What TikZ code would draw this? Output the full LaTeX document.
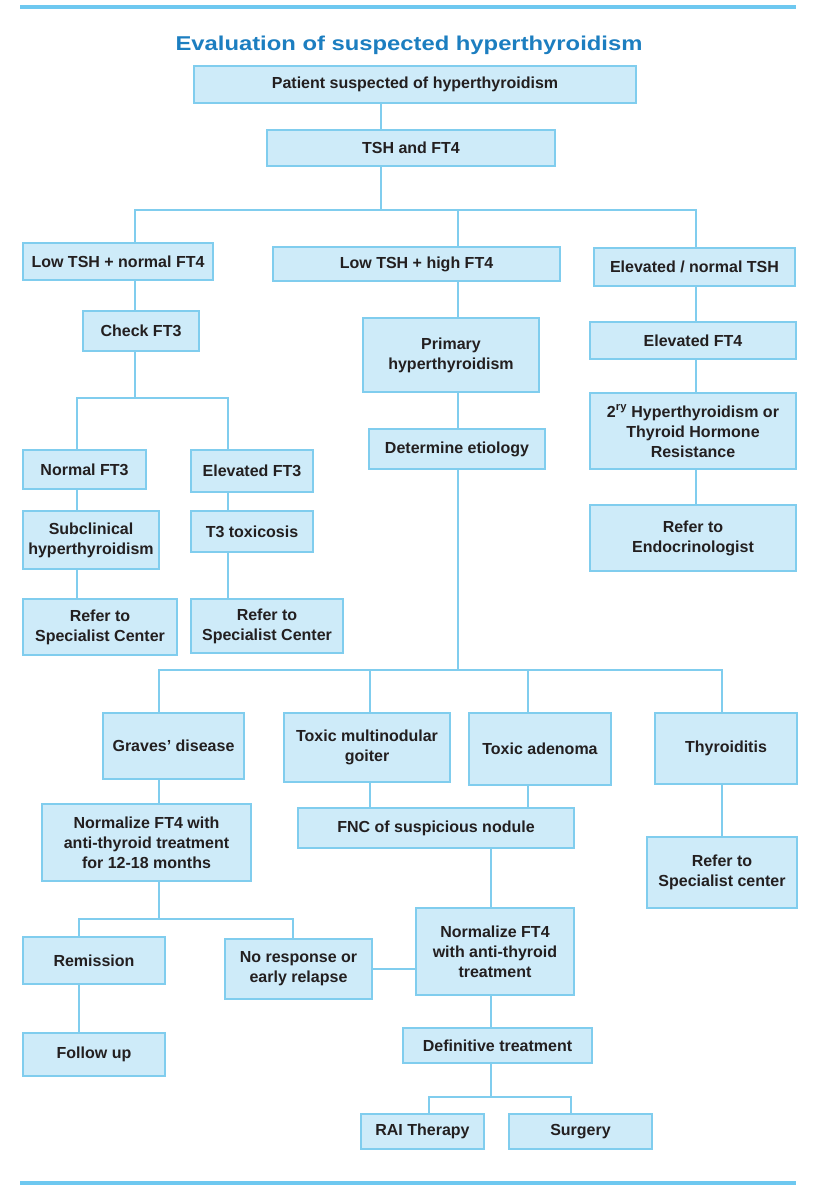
\documentclass[tikz,border=0pt]{standalone}
\usepackage{fontspec}
\setmainfont{Liberation Sans}
\usepackage{tikz}

\definecolor{boxfill}{RGB}{206,235,249}
\definecolor{boxline}{RGB}{128,205,238}
\definecolor{rulecol}{RGB}{110,200,240}
\definecolor{titleblue}{RGB}{28,126,192}
\definecolor{txt}{RGB}{35,31,32}

\tikzset{
  box/.style={draw=boxline, fill=boxfill, line width=1.8pt, inner sep=0pt,
    align=center, text=txt, font=\fontsize{16}{20}\selectfont\bfseries},
  link/.style={draw=boxline, line width=1.8pt},
  rule/.style={draw=rulecol, line width=4pt}
}

% name, left, top, right, bottom, text
\newcommand{\flowbox}[6]{
  \node[box, minimum width={#4-#2}, minimum height={#5-#3}]
    (#1) at ({(#2+#4)/2},{(#3+#5)/2}) {#6};
}

\begin{document}
\begin{tikzpicture}[x=1pt,y=-1pt]
\useasboundingbox (0,0) rectangle (824,1200);

% rules and title
\draw[rule] (20,7) -- (796,7);
\draw[rule] (20,1183) -- (796,1183);
\node[text=titleblue, font=\fontsize{20}{24}\selectfont\bfseries] (title) at (409,45)
  {\scalebox{1.19}[1]{Evaluation of suspected hyperthyroidism}};

% boxes
\flowbox{patient}{194}{66}{636}{103}{Patient suspected of hyperthyroidism}
\flowbox{tsh}{267}{130}{555}{166}{TSH and FT4}
\flowbox{lownorm}{23}{243}{213}{280}{Low TSH + normal FT4}
\flowbox{lowhigh}{273}{247}{560}{281}{Low TSH + high FT4}
\flowbox{elevtsh}{594}{248}{795}{286}{Elevated / normal TSH}
\flowbox{check}{83}{311}{199}{351}{Check FT3}
\flowbox{primary}{363}{318}{539}{392}{Primary\\hyperthyroidism}
\flowbox{etiology}{369}{429}{545}{469}{Determine etiology}
\flowbox{elevft4}{590}{322}{796}{359}{Elevated FT4}
\flowbox{secondary}{590}{393}{796}{469}{2\textsuperscript{ry}\ Hyperthyroidism or\\Thyroid Hormone\\Resistance}
\flowbox{endo}{590}{505}{796}{571}{Refer to\\Endocrinologist}
\flowbox{normft3}{23}{450}{146}{489}{Normal FT3}
\flowbox{elevft3}{191}{450}{313}{492}{Elevated FT3}
\flowbox{subclin}{23}{511}{159}{569}{Subclinical\\hyperthyroidism}
\flowbox{tthree}{191}{511}{313}{552}{T3 toxicosis}
\flowbox{refera}{23}{599}{177}{655}{Refer to\\Specialist Center}
\flowbox{referb}{191}{599}{343}{653}{Refer to\\Specialist Center}
\flowbox{graves}{103}{713}{244}{779}{Graves' disease}
\flowbox{tmg}{284}{713}{450}{782}{Toxic multinodular\\goiter}
\flowbox{adenoma}{469}{713}{611}{785}{Toxic adenoma}
\flowbox{thyroiditis}{655}{713}{797}{784}{Thyroiditis}
\flowbox{normgraves}{42}{804}{251}{881}{Normalize FT4 with\\anti-thyroid treatment\\for 12-18 months}
\flowbox{fnc}{298}{808}{574}{848}{FNC of suspicious nodule}
\flowbox{referc}{647}{837}{797}{908}{Refer to\\Specialist center}
\flowbox{remission}{23}{937}{165}{984}{Remission}
\flowbox{noresp}{225}{939}{372}{999}{No response or\\early relapse}
\flowbox{normtox}{416}{908}{574}{995}{Normalize FT4\\with anti-thyroid\\treatment}
\flowbox{followup}{23}{1033}{165}{1076}{Follow up}
\flowbox{definitive}{403}{1028}{592}{1063}{Definitive treatment}
\flowbox{rai}{361}{1114}{484}{1149}{RAI Therapy}
\flowbox{surgery}{509}{1114}{652}{1149}{Surgery}

% columns of the vertical links
\foreach \n/\x in {cTop/381,cA/135,cB/458,cC/696,cD/77,cE/228,cF/159,cG/370,
                   cH/528,cI/722,cJ/491,cK/79,cL/293,cM/429,cN/571}
  \coordinate (\n) at (\x,0);

% top
\draw[link] (patient.south -| cTop) -- (tsh.north -| cTop);
\draw[link] (tsh.south -| cTop) -- ++(0,43) coordinate (busA);
\draw[link] (lownorm.north -| cA) |- (busA) -| (elevtsh.north -| cC);
\draw[link] (busA -| cB) -- (lowhigh.north -| cB);

% low TSH + normal FT4
\draw[link] (lownorm.south -| cA) -- (check.north -| cA);
\draw[link] (check.south -| cA) -- ++(0,46) coordinate (busB);
\draw[link] (normft3.north -| cD) |- (busB) -| (elevft3.north -| cE);
\draw[link] (normft3.south -| cD) -- (subclin.north -| cD)
            (subclin.south -| cD) -- (refera.north -| cD);
\draw[link] (elevft3.south -| cE) -- (tthree.north -| cE)
            (tthree.south -| cE) -- (referb.north -| cE);

% low TSH + high FT4
\draw[link] (lowhigh.south -| cB) -- (primary.north -| cB)
            (primary.south -| cB) -- (etiology.north -| cB);
\draw[link] (etiology.south -| cB) -- ++(0,200) coordinate (busC);
\draw[link] (graves.north -| cF) |- (busC) -| (thyroiditis.north -| cI);
\draw[link] (busC -| cG) -- (tmg.north -| cG)
            (busC -| cH) -- (adenoma.north -| cH);

% elevated / normal TSH
\draw[link] (elevtsh.south -| cC) -- (elevft4.north -| cC)
            (elevft4.south -| cC) -- (secondary.north -| cC)
            (secondary.south -| cC) -- (endo.north -| cC);

% etiologies
\draw[link] (graves.south -| cF) -- (normgraves.north -| cF);
\draw[link] (tmg.south -| cG) -- (fnc.north -| cG)
            (adenoma.south -| cH) -- (fnc.north -| cH);
\draw[link] (thyroiditis.south -| cI) -- (referc.north -| cI);
\draw[link] (fnc.south -| cJ) -- (normtox.north -| cJ);

% treatment
\draw[link] (normgraves.south -| cF) -- ++(0,37) coordinate (busD);
\draw[link] (remission.north -| cK) |- (busD) -| (noresp.north -| cL);
\draw[link] (remission.south -| cK) -- (followup.north -| cK);
\draw[link] (noresp.east) -- (noresp.east -| normtox.west);
\draw[link] (normtox.south -| cJ) -- (definitive.north -| cJ);
\draw[link] (definitive.south -| cJ) -- ++(0,33) coordinate (busE);
\draw[link] (rai.north -| cM) |- (busE) -| (surgery.north -| cN);
\end{tikzpicture}
\end{document}
